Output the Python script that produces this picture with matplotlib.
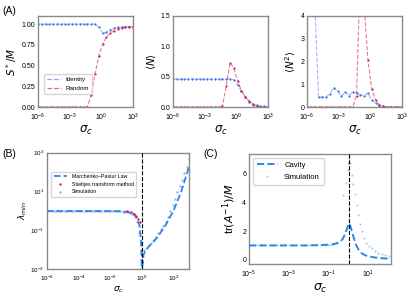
import numpy as np
import matplotlib
matplotlib.use('Agg')
import matplotlib.pyplot as plt
from matplotlib.lines import Line2D

plt.rcParams['font.family'] = ['Liberation Sans', 'DejaVu Sans']
plt.rcParams['mathtext.fontset'] = 'dejavusans'

# ---- panel A data (26 log-spaced sigma_c from 1e-6 to 1e3)
sigma_a = np.logspace(-6, 3, 26)
identity_S = [1.0, 1.0, 1.0, 1.0, 1.0, 1.0, 1.0, 1.0, 1.0, 1.0, 1.0, 1.0, 1.0,
              1.0, 1.0, 1.0, 0.96, 0.89, 0.90, 0.93, 0.95, 0.96, 0.965, 0.97, 0.97, 0.97]
random_S = [0, 0, 0, 0, 0, 0, 0, 0, 0, 0, 0, 0, 0,
            0.0, 0.15, 0.40, 0.62, 0.76, 0.85, 0.89, 0.92, 0.94, 0.955, 0.965, 0.97, 0.97]
identity_N = [0.46, 0.46, 0.46, 0.46, 0.46, 0.46, 0.46, 0.46, 0.46, 0.46, 0.46, 0.46, 0.46,
              0.46, 0.46, 0.46, 0.45, 0.36, 0.26, 0.17, 0.10, 0.05, 0.03, 0.015, 0.01, 0.005]
random_N = [0, 0, 0, 0, 0, 0, 0, 0, 0, 0, 0, 0, 0,
            0.02, 0.35, 0.73, 0.64, 0.42, 0.27, 0.16, 0.09, 0.04, 0.01, 0.005, 0.0, 0.0]
identity_N2 = [12.0, 8.0, 4.7, 0.44, 0.44, 0.44, 0.58, 0.85, 0.70, 0.47, 0.67, 0.50, 0.67,
               0.61, 0.54, 0.50, 0.61, 0.32, 0.18, 0.06, 0.03, 0.01, 0.005, 0.0, 0.0, 0.0]
random_N2 = [0, 0, 0, 0, 0, 0, 0, 0, 0, 0, 0, 0, 0,
             0.5, 6.0, 4.5, 2.07, 0.8, 0.3, 0.1, 0.03, 0.01, 0.0, 0.0, 0.0, 0.0]

# ---- panel B data
sim_b_exp = np.linspace(-6, 3, 61)
sim_b = [0.98, 0.98, 0.98, 0.98, 0.98, 0.98, 0.98, 0.98, 0.98, 0.98,
         0.98, 0.98, 0.98, 0.98, 0.98, 0.98, 0.98, 0.98, 0.98, 0.98,
         0.98, 0.98, 0.98, 0.98, 0.98, 0.98, 0.975, 0.97, 0.97, 0.96,
         0.95, 0.94, 0.92, 0.88, 0.85, 0.78, 0.66, 0.50, 0.28, 0.07,
         0.007, 0.010, 0.0126, 0.0166, 0.022, 0.032, 0.047, 0.07, 0.11, 0.16,
         0.28, 0.5, 1.0, 2.0, 4.2, 8.9, 18.6, 40.0, 85.0, 186.0, 447.0]
mp_left_exp = [-6, -3, -2, -1.5, -1, -0.7, -0.5, -0.3, -0.15, -0.05, -0.02, -0.005]
mp_left = [0.98, 0.98, 0.975, 0.96, 0.9, 0.8, 0.68, 0.42, 0.18, 0.03, 0.005, 0.0004]
mp_right_exp = [0.003, 0.03, 0.07, 0.11, 0.3, 0.5, 1.0, 1.5, 2.0, 2.5, 2.75, 3.0]
mp_right = [0.0004, 0.0013, 0.002, 0.0055, 0.011, 0.016, 0.045, 0.18, 1.0, 10.0, 45.0, 200.0]
st_exp = [-0.95, -0.67, -0.5, -0.35, -0.25, -0.14]
st_val = [0.93, 0.87, 0.71, 0.56, 0.39, 0.26]

# ---- panel C data
cav_exp = [-5, -3, -2, -1.5, -1, -0.84, -0.6, -0.4, -0.3, -0.17, -0.08, 0.02,
           0.1, 0.24, 0.35, 0.49, 0.65, 0.83, 1.0, 1.33, 1.7, 2.1]
cav_val = [1.0, 1.0, 1.0, 1.02, 1.05, 1.06, 1.15, 1.3, 1.45, 1.83, 2.2, 2.55,
           2.3, 1.6, 1.1, 0.71, 0.45, 0.31, 0.24, 0.15, 0.1, 0.07]
simc_exp = [-5.0, -4.8, -4.6, -4.4, -4.2, -4.0, -3.8, -3.6, -3.4, -3.2, -3.0,
            -2.8, -2.6, -2.4, -2.2, -2.0, -1.8, -1.6, -1.4, -1.2, -1.0, -0.8, -0.6,
            -0.26, -0.14, -0.05, -0.02, 0.0, 0.05, 0.16, 0.24, 0.33, 0.41, 0.49, 0.58,
            0.66, 0.75, 0.85, 1.0, 1.16, 1.33, 1.49, 1.66, 1.83, 2.0]
simc_val = [1.0, 1.0, 1.0, 1.0, 1.0, 1.0, 1.0, 1.0, 1.0, 1.0, 1.0,
            1.0, 1.0, 1.0, 1.0, 1.0, 1.0, 1.02, 1.03, 1.04, 1.06, 1.1, 1.18,
            4.5, 5.4, 6.3, 6.75, 7.1, 6.8, 5.9, 5.3, 4.63, 3.8, 3.1, 2.5,
            2.0, 1.5, 1.2, 0.95, 0.8, 0.6, 0.5, 0.38, 0.31, 0.25]

blue = '#3b6fe8'
red = '#d4235a'
lblue = '#2f86e6'
pale = '#8fc1f2'
simblue = '#5c9fea'
spine_c = '#8a8a8a'

fig = plt.figure(figsize=(4.15, 3.04), dpi=100)


def style(ax, fs):
    for s in ax.spines.values():
        s.set_color(spine_c)
        s.set_linewidth(1.0)
    ax.tick_params(length=0, pad=2, labelsize=fs, which='both')
    ax.tick_params(axis='x', pad=3.5)
    ax.minorticks_off()


# ---- top row
ax1 = fig.add_axes([0.0916, 0.648, 0.229, 0.300])
ax2 = fig.add_axes([0.417, 0.648, 0.229, 0.300])
ax3 = fig.add_axes([0.740, 0.648, 0.229, 0.300])
tops = [(ax1, identity_S, random_S, (0, 1.1), [0, 0.25, 0.5, 0.75, 1.0], r'$S^*/M$'),
        (ax2, identity_N, random_N, (0, 1.5), [0, 0.5, 1.0, 1.5], r'$\langle N\rangle$'),
        (ax3, identity_N2, random_N2, (0, 4), [0, 1, 2, 3, 4], r'$\langle N^2\rangle$')]
for ax, ida, rda, yl, yt, lab in tops:
    ax.plot(sigma_a, ida, '--', color=blue, lw=0.8, alpha=0.5)
    ax.plot(sigma_a, ida, '.', color=blue, ms=3.2, mew=0)
    ax.plot(sigma_a, rda, '--', color=red, lw=0.8, alpha=0.6)
    ax.plot(sigma_a, rda, '.', color=red, ms=3.2, mew=0)
    ax.set_xscale('log')
    ax.set_xlim(1e-6, 1e3)
    ax.set_xticks([1e-6, 1e-3, 1e0, 1e3])
    ax.set_ylim(*yl)
    ax.set_yticks(yt)
    style(ax, 5)
    ax.set_xlabel(r'$\sigma_c$', fontsize=8.5, labelpad=0.5)
    ax.set_ylabel(lab, fontsize=7.5, labelpad=2)
ax1.set_yticklabels(['0.00', '0.25', '0.50', '0.75', '1.00'])
ax2.set_yticklabels(['0.0', '0.5', '1.0', '1.5'])
h = [Line2D([], [], ls='--', color=blue, lw=0.9, alpha=0.6),
     Line2D([], [], ls='--', color=red, lw=0.9, alpha=0.7)]
ax1.legend(h, ['Identity', 'Random'], loc='lower left', bbox_to_anchor=(0.03, 0.11),
           fontsize=4.5, frameon=True, handlelength=2.2, borderpad=0.5, labelspacing=0.5)

# ---- panel B
axb = fig.add_axes([0.113, 0.115, 0.343, 0.383])
axb.plot(10.0 ** sim_b_exp, sim_b, '.', color=simblue, ms=3.4, mew=0, alpha=0.7,
         label='Simulation', zorder=2)
axb.plot(10.0 ** np.array(mp_left_exp), mp_left, '--', color=lblue, lw=1.3,
         label='Marchenko\u2013Pastur Law', zorder=3)
axb.plot(10.0 ** np.array(mp_right_exp), mp_right, '--', color=lblue, lw=1.3, zorder=3)
axb.plot(10.0 ** np.array(st_exp), st_val, '.', color=red, ms=3.5, mew=0,
         label='Stieltjes transform method', zorder=4)
axb.axvline(1.0, color='k', ls='--', lw=0.8, zorder=5)
axb.set_xscale('log')
axb.set_yscale('log')
axb.set_xlim(1e-6, 1e3)
axb.set_ylim(1e-3, 1e3)
axb.set_xticks([1e-6, 1e-4, 1e-2, 1e0, 1e2])
axb.set_yticks([1e-3, 1e-1, 1e1, 1e3])
style(axb, 4.5)
axb.set_xlabel(r'$\sigma_c$', fontsize=6.5, labelpad=1)
axb.set_ylabel(r'$\lambda_{min}$', fontsize=6.5, labelpad=1)
hb, lb = axb.get_legend_handles_labels()
order = [1, 2, 0]
axb.legend([hb[i] for i in order], [lb[i] for i in order], loc='upper left',
           bbox_to_anchor=(0.01, 0.86), fontsize=3.8, handlelength=2.6,
           borderpad=0.5, labelspacing=0.5)

# ---- panel C
axc = fig.add_axes([0.600, 0.1316, 0.342, 0.362])
axc.plot(10.0 ** np.array(simc_exp), simc_val, '.', color=pale, ms=3, mew=0,
         alpha=0.8, label='Simulation', zorder=2)
axc.plot(10.0 ** np.array(cav_exp), cav_val, '--', color=lblue, lw=1.4,
         label='Cavity', zorder=3)
axc.axvline(1.0, color='k', ls='--', lw=0.8, zorder=5)
axc.set_xscale('log')
axc.set_xlim(1e-5, 10 ** 2.12)
axc.set_ylim(-0.3, 7.4)
axc.set_xticks([1e-5, 1e-3, 1e-1, 1e1])
axc.set_yticks([0, 2, 4, 6])
style(axc, 5)
axc.set_xlabel(r'$\sigma_c$', fontsize=9, labelpad=1)
axc.set_ylabel(r'tr$(A^{-1})/M$', fontsize=8, labelpad=3)
hc, lc = axc.get_legend_handles_labels()
axc.legend([hc[1], hc[0]], [lc[1], lc[0]], loc='upper left', fontsize=5.5,
           handlelength=2.8, borderpad=0.5, labelspacing=0.6)

fig.text(0.005, 0.955, '(A)', fontsize=7.5)
fig.text(0.005, 0.485, '(B)', fontsize=7.5)
fig.text(0.49, 0.485, '(C)', fontsize=7.5)

fig.savefig('out.png', dpi=100)
